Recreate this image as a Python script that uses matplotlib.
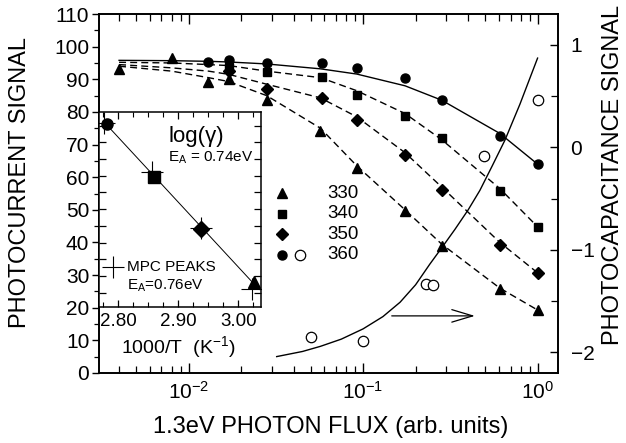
import numpy as np
import matplotlib
matplotlib.use('Agg')
import matplotlib.pyplot as plt
from matplotlib.ticker import MultipleLocator, LogLocator, NullFormatter

plt.rcParams['font.family'] = ['Liberation Sans', 'DejaVu Sans']
plt.rcParams['mathtext.fontset'] = 'custom'
plt.rcParams['mathtext.rm'] = 'Liberation Sans'
plt.rcParams['mathtext.it'] = 'Liberation Sans:italic'
plt.rcParams['mathtext.bf'] = 'Liberation Sans:bold'

# photocurrent data (left axis), flux in arb. units
flux_330 = [0.004, 0.008, 0.013, 0.017, 0.028, 0.057, 0.092, 0.174, 0.282, 0.608, 1.0]
pc_330 = [93.3, 96.4, 89.2, 90.0, 83.7, 74.3, 62.9, 49.6, 38.9, 25.6, 19.3]
flux_340 = [0.017, 0.028, 0.058, 0.092, 0.174, 0.282, 0.608, 1.0]
pc_340 = [93.8, 92.1, 90.8, 85.2, 78.7, 71.9, 55.9, 44.8]
flux_350 = [0.017, 0.028, 0.058, 0.092, 0.174, 0.282, 0.608, 1.0]
pc_350 = [92.6, 87.0, 84.3, 77.5, 66.8, 56.1, 39.2, 30.7]
flux_360 = [0.013, 0.017, 0.028, 0.058, 0.092, 0.174, 0.282, 0.608, 1.0]
pc_360 = [95.2, 95.8, 94.9, 95.1, 93.5, 90.5, 83.6, 72.6, 64.0]

# fitted curves
fit_flux = [0.004, 0.008, 0.013, 0.017, 0.028, 0.057, 0.092, 0.174, 0.282, 0.608, 1.0]
fit_360 = [95.8, 95.7, 95.5, 95.3, 94.7, 93.2, 91.6, 88.0, 83.6, 73.4, 64.0]
fit_340 = [95.2, 95.0, 94.5, 94.2, 92.5, 90.5, 86.5, 79.5, 71.5, 56.5, 44.8]
fit_350 = [94.5, 93.5, 92.5, 91.5, 88.5, 84.3, 78.5, 67.5, 57.0, 40.0, 30.7]
fit_330 = [94.0, 92.5, 90.5, 89.3, 85.0, 75.0, 63.5, 50.0, 39.5, 26.0, 19.3]

# photocapacitance data (right axis)
cap_flux = [0.050, 0.100, 0.229, 0.250, 0.494, 1.0]
cap_val = [-1.85, -1.89, -1.33, -1.34, -0.08, 0.46]
cap_fit_flux = [0.032, 0.045, 0.057, 0.075, 0.1, 0.13, 0.163, 0.2, 0.241, 0.285,
                0.336, 0.4, 0.467, 0.55, 0.65, 0.792, 1.0]
cap_fit_val = [-2.04, -1.99, -1.94, -1.87, -1.77, -1.65, -1.51, -1.34, -1.14, -0.97,
               -0.80, -0.61, -0.42, -0.18, 0.07, 0.42, 0.87]

# inset: log(gamma) vs 1000/T
inv_T = [2.782, 2.860, 2.938, 3.026]
log_gamma = [0.939, 0.666, 0.399, 0.131]
mpc_inv_T = [2.777, 2.857, 2.938, 3.023]
mpc_log = [0.945, 0.694, 0.405, 0.092]
inset_markers = ['o', 's', 'D', '^']

temps = ['330', '340', '350', '360']
arrow_from = (0.146, 17.5)
arrow_to = (0.437, 17.5)

fig = plt.figure(figsize=(6.26, 4.43), dpi=100)
ax = fig.add_axes([99/626, 70/443, 459/626, 359/443])
ax.set_xscale('log')
ax.set_xlim(10**-2.513, 10**0.117)
ax.set_ylim(0, 110)

dash = (0, (5, 3))
ax.plot(fit_flux, fit_360, '-', color='black', lw=1.0)
ax.plot(fit_flux, fit_340, linestyle=dash, color='black', lw=1.0)
ax.plot(fit_flux, fit_350, linestyle=dash, color='black', lw=1.0)
ax.plot(fit_flux, fit_330, linestyle=dash, color='black', lw=1.0)

ax.plot(flux_330, pc_330, '^', color='black', ms=7, ls='none')
ax.plot(flux_340, pc_340, 's', color='black', ms=6, ls='none')
ax.plot(flux_350, pc_350, 'D', color='black', ms=6, ls='none')
ax.plot(flux_360, pc_360, 'o', color='black', ms=6.5, ls='none')

ax.annotate('', xy=arrow_to, xytext=arrow_from,
            arrowprops=dict(arrowstyle='->,head_length=1.5,head_width=0.45',
                            lw=0.9, color='black', shrinkA=0, shrinkB=0,
                            mutation_scale=10))

# legend keys drawn by hand
rows = [0.501, 0.443, 0.387, 0.329]
keys = [('^', 7), ('s', 6), ('D', 6), ('o', 6.5)]
for (m, s), yy, lab in zip(keys, rows, temps):
    ax.plot([0.399], [yy], m, color='black', ms=s, transform=ax.transAxes, clip_on=False)
    ax.text(0.497, yy, lab, transform=ax.transAxes, fontsize=13.5, va='center', ha='left')
ax.plot([0.438], [rows[3]], 'o', mfc='white', mec='black', ms=7.5, mew=0.9,
        transform=ax.transAxes, clip_on=False)

ax.yaxis.set_major_locator(MultipleLocator(10))
ax.yaxis.set_minor_locator(MultipleLocator(5))
ax.xaxis.set_major_locator(LogLocator(base=10, numticks=10))
ax.xaxis.set_minor_locator(LogLocator(base=10, subs=np.arange(2, 10), numticks=10))
ax.xaxis.set_minor_formatter(NullFormatter())
ax.tick_params(axis='x', which='both', direction='in', top=True, labelsize=15, pad=6)
ax.tick_params(axis='x', which='major', length=7, width=1)
ax.tick_params(axis='x', which='minor', length=5, width=0.9)
ax.tick_params(axis='y', which='both', direction='out', labelsize=15, pad=2)
ax.tick_params(axis='y', which='major', length=5, width=1)
ax.tick_params(axis='y', which='minor', length=3.5, width=0.9)
for sp in ax.spines.values():
    sp.set_linewidth(1.2)

ax2 = ax.twinx()
ax2.set_ylim(-2.2, 1.3)
ax2.plot(cap_fit_flux, cap_fit_val, '-', color='black', lw=1.0)
ax2.plot(cap_flux, cap_val, 'o', mfc='white', mec='black', ms=7.5, mew=0.9, ls='none')
ax2.yaxis.set_major_locator(MultipleLocator(1))
ax2.yaxis.set_minor_locator(MultipleLocator(0.5))
ax2.tick_params(axis='y', which='both', direction='in', labelsize=15, pad=9)
ax2.tick_params(axis='y', which='major', length=6, width=1)
ax2.tick_params(axis='y', which='minor', length=5, width=0.9)
for sp in ax2.spines.values():
    sp.set_linewidth(1.2)

fig.text(20/626, 1 - 182.5/443, 'PHOTOCURRENT SIGNAL', rotation=90,
         ha='center', va='center', fontsize=17)
fig.text(613/626, 1 - 175/443, 'PHOTOCAPACITANCE SIGNAL', rotation=90,
         ha='center', va='center', fontsize=17)
fig.text(330.5/626, 1 - 427/443, '1.3eV PHOTON FLUX (arb. units)',
         ha='center', va='center', fontsize=17)

# inset
ins = fig.add_axes([99/626, (443 - 307.3)/443, 162/626, 195.3/443])
ins.set_facecolor('white')
ins.set_xlim(2.768, 3.038)
ins.set_ylim(0, 1)
fit = np.polyfit(inv_T, log_gamma, 1)
xx = np.array([2.775, 3.035])
ins.plot(xx, np.polyval(fit, xx), '-', color='black', lw=0.7)
ins.plot(mpc_inv_T, mpc_log, '+', color='black', ms=16, mew=0.8, ls='none')
for xv, yv, m in zip(inv_T, log_gamma, inset_markers):
    ins.plot([xv], [yv], m, color='black', ms=8 if m != '^' else 8.5)

ins.plot([0.086], [0.204], '+', color='black', ms=16, mew=0.8, transform=ins.transAxes)
ins.text(0.171, 0.204, 'MPC PEAKS', transform=ins.transAxes, fontsize=11, va='center')
ins.text(0.171, 0.112, 'E$_\\mathrm{A}$=0.76eV', transform=ins.transAxes, fontsize=11, va='center')
ins.text(0.426, 0.873, 'log(γ)', transform=ins.transAxes, fontsize=16, va='center')
ins.text(0.426, 0.764, 'E$_\\mathrm{A}$ = 0.74eV', transform=ins.transAxes, fontsize=11, va='center')

ins.set_xticks([2.80, 2.90, 3.00])
ins.set_xticklabels(['2.80', '2.90', '3.00'])
ins.xaxis.set_minor_locator(MultipleLocator(0.025))
ins.set_yticks(np.arange(0.075, 1.0, 0.0855))
ins.yaxis.set_ticklabels([])
ins.tick_params(which='both', direction='in', top=True, right=True, labelsize=13.5, pad=4)
ins.tick_params(which='major', length=5, width=0.9)
ins.tick_params(which='minor', length=3.5, width=0.8)
ins.set_xlabel('1000/T  (K$^{-1}$)', fontsize=14)
ins.xaxis.set_label_coords(0.49, -0.202)
ins.xaxis.label.set_va('center')
for sp in ins.spines.values():
    sp.set_linewidth(1.1)

fig.savefig('out.png', dpi=100)
